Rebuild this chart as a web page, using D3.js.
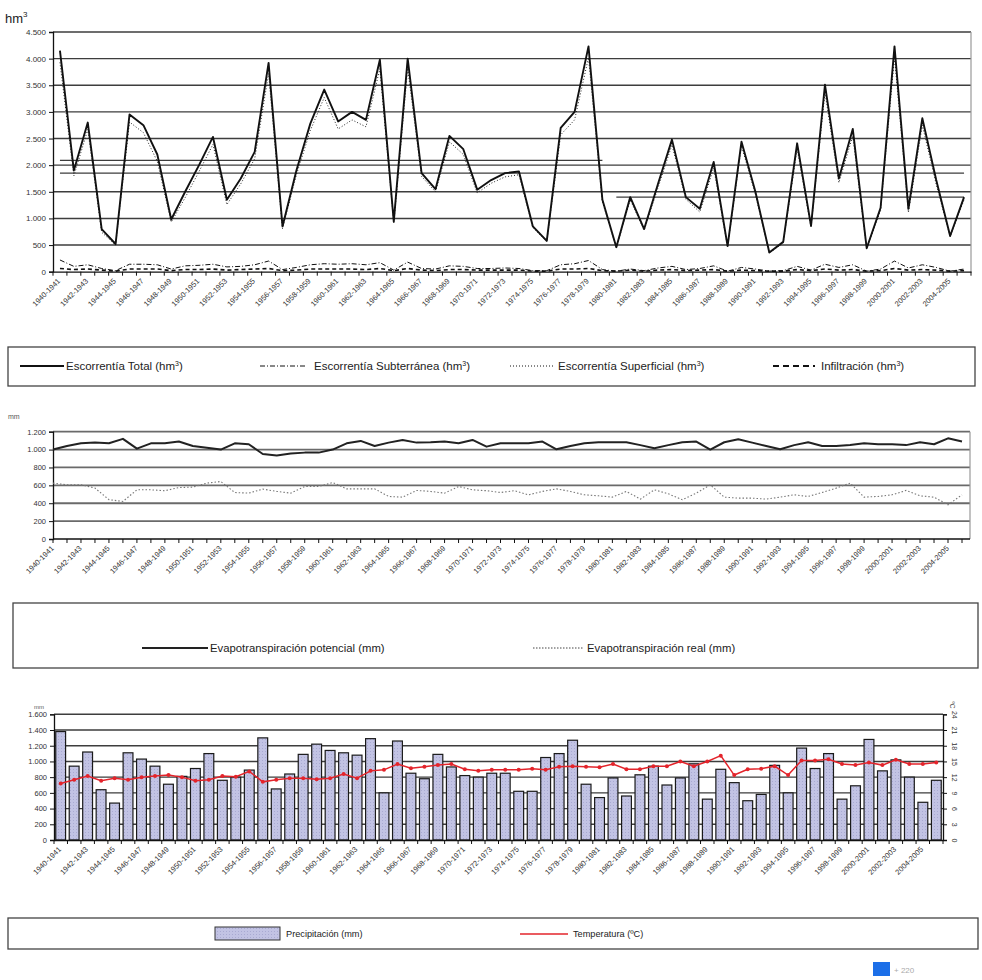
<!DOCTYPE html>
<html><head><meta charset="utf-8">
<script src="https://cdn.jsdelivr.net/npm/d3@7"></script>
<style>
body{margin:0;background:#fff}
svg{display:block;font-family:"Liberation Sans",Arial,sans-serif}
</style>
</head><body>
<svg id="c" width="982" height="980"></svg>
<script>
// Hydrological years
const years = ["1940-1941","1941-1942","1942-1943","1943-1944","1944-1945","1945-1946","1946-1947","1947-1948","1948-1949","1949-1950",
"1950-1951","1951-1952","1952-1953","1953-1954","1954-1955","1955-1956","1956-1957","1957-1958","1958-1959","1959-1960",
"1960-1961","1961-1962","1962-1963","1963-1964","1964-1965","1965-1966","1966-1967","1967-1968","1968-1969","1969-1970",
"1970-1971","1971-1972","1972-1973","1973-1974","1974-1975","1975-1976","1976-1977","1977-1978","1978-1979","1979-1980",
"1980-1981","1981-1982","1982-1983","1983-1984","1984-1985","1985-1986","1986-1987","1987-1988","1988-1989","1989-1990",
"1990-1991","1991-1992","1992-1993","1993-1994","1994-1995","1995-1996","1996-1997","1997-1998","1998-1999","1999-2000",
"2000-2001","2001-2002","2002-2003","2003-2004","2004-2005","2005-2006"];

// Runoff components (hm3)
const escorrentiaTotal = [4150,1900,2800,800,520,2950,2750,2200,980,1500,2000,2530,1350,1750,2250,3920,850,1900,2780,3420,
2820,3000,2850,3980,940,4000,1850,1550,2550,2300,1540,1720,1850,1880,850,580,2700,3000,4230,1350,
460,1400,800,1650,2480,1400,1180,2060,480,2440,1500,360,560,2410,860,3510,1750,2680,440,1200,
4230,1180,2880,1720,670,1400];
const escorrentiaSubterranea = [220,100,130,60,20,140,140,130,50,110,120,140,90,100,130,200,40,80,130,150,
140,150,130,170,30,180,60,50,110,100,60,60,70,60,20,20,130,150,210,40,
10,50,20,70,100,40,60,110,10,80,50,10,20,100,30,140,80,130,10,50,
200,70,130,80,10,50];
const escorrentiaSuperficial = [3930,1800,2670,740,500,2810,2610,2070,930,1390,1880,2390,1260,1650,2120,3720,810,1820,2650,3270,
2680,2850,2720,3810,910,3820,1790,1500,2440,2200,1480,1660,1780,1820,830,560,2570,2850,4020,1310,
450,1350,780,1580,2380,1360,1120,1950,470,2360,1450,350,540,2310,830,3370,1670,2550,430,1150,
4030,1110,2750,1640,660,1350];
const infiltracion = [60,40,50,30,10,50,50,50,20,40,40,50,30,40,50,60,20,30,50,50,
50,50,40,60,20,60,30,20,40,40,30,30,30,30,10,10,50,50,60,20,
10,30,10,30,40,20,30,40,10,30,20,10,10,40,20,50,30,40,10,20,
60,30,40,30,10,20];
// Period means of total runoff (hm3)
const mediaPeriodos = [
  {desde:"1940-1941", hasta:"1979-1980", valor:2090},
  {desde:"1940-1941", hasta:"2005-2006", valor:1850},
  {desde:"1980-1981", hasta:"2005-2006", valor:1400}
];
const runoffTicks = [0,500,1000,1500,2000,2500,3000,3500,4000,4500];

// Evapotranspiration (mm)
const etPotencial = [1000,1040,1070,1080,1070,1120,1010,1070,1070,1090,1040,1020,1000,1070,1060,950,935,955,966,966,
1000,1070,1097,1040,1078,1108,1078,1082,1090,1070,1108,1033,1070,1070,1070,1090,1003,1040,1070,1082,
1082,1082,1050,1015,1050,1082,1090,1000,1082,1115,1078,1040,1003,1050,1082,1040,1040,1050,1070,1060,
1060,1050,1082,1060,1126,1090];
const etReal = [625,606,606,570,440,420,550,550,540,575,580,625,643,520,513,558,532,513,587,587,
632,561,561,561,476,468,543,532,513,587,550,540,520,540,494,532,561,532,494,483,
468,532,446,550,505,439,513,606,468,457,457,446,468,494,476,520,569,625,468,476,
494,543,483,468,383,494];
const etTicks = [0,200,400,600,800,1000,1200];

// Precipitation (mm) and mean temperature (ºC)
const precipitacion = [1380,940,1120,640,470,1110,1030,940,710,810,910,1100,760,800,890,1300,650,840,1090,1220,
1140,1110,1080,1290,600,1260,850,780,1090,930,820,800,850,850,620,620,1050,1100,1270,710,
540,790,560,830,940,700,790,970,520,900,730,500,580,950,600,1170,910,1100,520,690,
1280,880,1020,800,480,760];
const temperatura = [10.8,11.5,12.2,11.3,11.8,11.5,12.0,12.2,12.4,12.0,11.3,11.5,12.2,12.1,13.1,11.1,11.5,11.8,11.8,11.6,
11.8,12.6,11.8,13.2,13.4,14.5,13.7,14.0,14.3,14.5,13.5,13.2,13.4,13.4,13.4,13.6,13.4,14.0,14.1,14.0,
13.9,14.5,13.5,13.5,14.1,14.1,15.0,14.1,15.0,16.1,12.4,13.5,13.6,14.1,12.4,15.2,15.2,15.4,14.5,14.3,
14.8,14.3,15.3,14.5,14.5,14.8];
const precipTicks = [0,200,400,600,800,1000,1200,1400,1600];
const tempTicks = [0,3,6,9,12,15,18,21,24];

const svg = d3.select("#c");
const loc = d3.formatLocale({decimal:",", thousands:".", grouping:[3], currency:["","€"]});
const fmt = loc.format(",.0f");
const labelYears = years.filter((d,i)=>i%2===0);

const defs = svg.append("defs");
const pat = defs.append("pattern").attr("id","dots").attr("width",3).attr("height",3).attr("patternUnits","userSpaceOnUse");
pat.append("rect").attr("width",3).attr("height",3).attr("fill","#c2c3e4");
pat.append("rect").attr("x",1).attr("y",1).attr("width",1).attr("height",1).attr("fill","#a9aad2");

function styleAxis(g, fs){
  g.select(".domain").attr("stroke","#111").attr("stroke-width",1.3);
  g.selectAll(".tick line").attr("stroke","#111");
  g.selectAll("text").attr("fill","#333").attr("font-size",fs)
   .attr("font-family",'"Liberation Sans",Arial,sans-serif');
}
function rotateLabels(g, dx, dy){
  g.selectAll(".tick text").attr("x",0).attr("y",0).attr("dy","0.35em")
   .attr("text-anchor","end").attr("transform",`translate(${dx},${dy}) rotate(-45)`);
}

// ================= Panel 1: runoff =================
const P1 = {l:53, r:971, t:32, b:271.7};
const x1 = d3.scaleBand().domain(years).range([P1.l,P1.r]);
const y1 = d3.scaleLinear().domain([0,4500]).range([P1.b,P1.t]);
const c1 = d => x1(d)+x1.bandwidth()/2;
const g1 = svg.append("g");
g1.selectAll(null).data(runoffTicks.filter(d=>d>0)).join("line")
  .attr("x1",P1.l).attr("x2",P1.r).attr("y1",d=>y1(d)).attr("y2",d=>y1(d))
  .attr("stroke","#3d3d3d").attr("stroke-width",1.4);
g1.append("line").attr("x1",P1.r).attr("x2",P1.r).attr("y1",P1.t).attr("y2",P1.b).attr("stroke","#999").attr("stroke-width",1.2);
// period means
g1.selectAll(null).data(mediaPeriodos).join("line")
  .attr("x1",d=>c1(d.desde)).attr("x2",d=>c1(d.hasta))
  .attr("y1",d=>y1(d.valor)).attr("y2",d=>y1(d.valor))
  .attr("stroke","#3d3d3d").attr("stroke-width",1.4);
const ay1 = g1.append("g").attr("transform",`translate(${P1.l},0)`)
  .call(d3.axisLeft(y1).tickValues(runoffTicks).tickFormat(fmt).tickSize(4).tickPadding(3));
styleAxis(ay1, 8);
const ax1 = g1.append("g").attr("transform",`translate(0,${P1.b})`)
  .call(d3.axisBottom(x1).tickValues(labelYears).tickSize(0));
styleAxis(ax1, 7.5);
rotateLabels(ax1, -1, 8);
g1.selectAll(null).data(years.concat([null])).join("line")
  .attr("x1",d=>d?x1(d):P1.r).attr("x2",d=>d?x1(d):P1.r)
  .attr("y1",P1.b).attr("y2",P1.b+4).attr("stroke","#111");

const line1 = d3.line().x((d,i)=>c1(years[i])).y(d=>y1(d));
g1.append("path").datum(escorrentiaSubterranea).attr("d",line1).attr("fill","none")
  .attr("stroke","#111").attr("stroke-width",1).attr("stroke-dasharray","5,2,1,2");
g1.append("path").datum(infiltracion).attr("d",line1).attr("fill","none")
  .attr("stroke","#111").attr("stroke-width",1.6).attr("stroke-dasharray","4,3");
g1.append("path").datum(escorrentiaSuperficial).attr("d",line1).attr("fill","none")
  .attr("stroke","#222").attr("stroke-width",1).attr("stroke-dasharray","1,2");
g1.append("path").datum(escorrentiaTotal).attr("d",line1).attr("fill","none")
  .attr("stroke","#111").attr("stroke-width",1.9).attr("stroke-linejoin","round");

const unit1 = g1.append("text").attr("x",5).attr("y",23).attr("font-size",13).attr("fill","#222");
unit1.append("tspan").text("hm");
unit1.append("tspan").attr("font-size",8).attr("dy",-6).text("3");

// Legend 1
const L1 = svg.append("g");
L1.append("rect").attr("x",8).attr("y",347).attr("width",967).attr("height",39)
  .attr("fill","#fff").attr("stroke","#444").attr("stroke-width",1.3);
const leg1 = [
  {x:20, w:44, tx:66, t:"Escorrentía Total (hm", dash:null, sw:2},
  {x:260, w:45, tx:314, t:"Escorrentía Subterránea (hm", dash:"5,2,1,2", sw:1},
  {x:510, w:45, tx:558, t:"Escorrentía Superficial (hm", dash:"1,2", sw:1},
  {x:773, w:42, tx:821, t:"Infiltración (hm", dash:"6,4", sw:2.2}
];
leg1.forEach(d=>{
  L1.append("line").attr("x1",d.x).attr("x2",d.x+d.w).attr("y1",366).attr("y2",366)
    .attr("stroke","#111").attr("stroke-width",d.sw).attr("stroke-dasharray",d.dash);
  const t = L1.append("text").attr("x",d.tx).attr("y",370).attr("font-size",11.5).attr("fill","#222");
  t.append("tspan").text(d.t);
  t.append("tspan").attr("font-size",7).attr("dy",-4).text("3");
  t.append("tspan").attr("dy",4).text(")");
});

// ================= Panel 2: evapotranspiration =================
const P2 = {l:53, r:970, pr:962, t:431.7, b:539};
const x2 = d3.scalePoint().domain(years).range([P2.l,P2.pr]);
const y2 = d3.scaleLinear().domain([0,1200]).range([P2.b,P2.t]);
const g2 = svg.append("g");
g2.selectAll(null).data(etTicks.filter(d=>d>0)).join("line")
  .attr("x1",P2.l).attr("x2",P2.r).attr("y1",d=>y2(d)).attr("y2",d=>y2(d))
  .attr("stroke","#6a6a6a").attr("stroke-width",1.8);
g2.append("line").attr("x1",P2.r).attr("x2",P2.r).attr("y1",P2.t).attr("y2",P2.b).attr("stroke","#999").attr("stroke-width",1.2);
const ay2 = g2.append("g").attr("transform",`translate(${P2.l},0)`)
  .call(d3.axisLeft(y2).tickValues(etTicks).tickFormat(fmt).tickSize(4).tickPadding(3));
styleAxis(ay2, 7.5);
const ax2 = g2.append("g").attr("transform",`translate(0,${P2.b})`)
  .call(d3.axisBottom(x2).tickValues(labelYears).tickSize(0));
styleAxis(ax2, 7.5);
ax2.select(".domain").attr("d",`M${P2.l},0H${P2.r}`);
rotateLabels(ax2, -1, 8);
g2.selectAll(null).data(years).join("line")
  .attr("x1",d=>x2(d)).attr("x2",d=>x2(d)).attr("y1",P2.b).attr("y2",P2.b+4).attr("stroke","#111");
const line2 = d3.line().x((d,i)=>x2(years[i])).y(d=>y2(d));
g2.append("path").datum(etReal).attr("d",line2).attr("fill","none")
  .attr("stroke","#777").attr("stroke-width",1.1).attr("stroke-dasharray","1.5,2");
g2.append("path").datum(etPotencial).attr("d",line2).attr("fill","none")
  .attr("stroke","#222").attr("stroke-width",2).attr("stroke-linejoin","round");
g2.append("text").attr("x",8).attr("y",419).attr("font-size",7).attr("fill","#555").text("mm");

// Legend 2
const L2 = svg.append("g");
L2.append("rect").attr("x",13).attr("y",603).attr("width",965).attr("height",65)
  .attr("fill","#fff").attr("stroke","#444").attr("stroke-width",1.3);
L2.append("line").attr("x1",142).attr("x2",208).attr("y1",648).attr("y2",648).attr("stroke","#222").attr("stroke-width",2);
L2.append("text").attr("x",210).attr("y",652).attr("font-size",11.3).attr("fill","#222").text("Evapotranspiración potencial (mm)");
L2.append("line").attr("x1",533).attr("x2",583).attr("y1",648).attr("y2",648).attr("stroke","#444").attr("stroke-width",1).attr("stroke-dasharray","1.5,1.5");
L2.append("text").attr("x",587).attr("y",652).attr("font-size",11.3).attr("fill","#222").text("Evapotranspiración real (mm)");

// ================= Panel 3: precipitation & temperature =================
const P3 = {l:54, r:943, t:714.3, b:840};
const x3 = d3.scaleBand().domain(years).range([P3.l,P3.r]).paddingInner(0.27).paddingOuter(0.13);
const x3b = d3.scaleBand().domain(years).range([P3.l,P3.r]);
const y3 = d3.scaleLinear().domain([0,1600]).range([P3.b,P3.t]);
const y3r = d3.scaleLinear().domain([0,24]).range([P3.b,P3.t]);
const g3 = svg.append("g");
g3.selectAll(null).data(precipTicks.filter(d=>d>0)).join("line")
  .attr("x1",P3.l).attr("x2",P3.r).attr("y1",d=>y3(d)).attr("y2",d=>y3(d))
  .attr("stroke","#3d3d3d").attr("stroke-width",1.4);
g3.selectAll(null).data(precipitacion).join("rect")
  .attr("x",(d,i)=>x3(years[i])).attr("width",x3.bandwidth())
  .attr("y",d=>y3(d)).attr("height",d=>P3.b-y3(d))
  .attr("fill","url(#dots)").attr("stroke","#1a1a1a").attr("stroke-width",1.2);
const ay3 = g3.append("g").attr("transform",`translate(${P3.l},0)`)
  .call(d3.axisLeft(y3).tickValues(precipTicks).tickFormat(fmt).tickSize(4).tickPadding(3));
styleAxis(ay3, 7.5);
const ay3r = g3.append("g").attr("transform",`translate(${P3.r},0)`)
  .call(d3.axisRight(y3r).tickValues(tempTicks).tickSize(4).tickPadding(4));
styleAxis(ay3r, 7);
ay3r.selectAll(".tick text").attr("x",0).attr("dy",0).attr("text-anchor","middle")
  .attr("transform","translate(9,0) rotate(90)");
const ax3 = g3.append("g").attr("transform",`translate(0,${P3.b})`)
  .call(d3.axisBottom(x3b).tickValues(labelYears).tickSize(0));
styleAxis(ax3, 7.5);
rotateLabels(ax3, -1, 8);
g3.selectAll(null).data(years.concat([null])).join("line")
  .attr("x1",d=>d?x3b(d):P3.r).attr("x2",d=>d?x3b(d):P3.r)
  .attr("y1",P3.b).attr("y2",P3.b+4).attr("stroke","#111");
const c3 = d => x3b(d)+x3b.bandwidth()/2;
const line3 = d3.line().x((d,i)=>c3(years[i])).y(d=>y3r(d));
g3.append("path").datum(temperatura).attr("d",line3).attr("fill","none")
  .attr("stroke","#e3242b").attr("stroke-width",1.5);
g3.selectAll(null).data(temperatura).join("circle")
  .attr("cx",(d,i)=>c3(years[i])).attr("cy",d=>y3r(d)).attr("r",2)
  .attr("fill","#e3242b");
g3.append("text").attr("x",34).attr("y",709).attr("font-size",6).attr("fill","#555").text("mm");
g3.append("text").attr("font-size",6.5).attr("fill","#555").attr("text-anchor","middle")
  .attr("transform",`translate(${P3.r+7},705) rotate(90)`).text("ºC");

// Legend 3
const L3 = svg.append("g");
L3.append("rect").attr("x",8).attr("y",918).attr("width",970).attr("height",31)
  .attr("fill","#fff").attr("stroke","#444").attr("stroke-width",1.3);
L3.append("rect").attr("x",215).attr("y",927).attr("width",65).attr("height",13)
  .attr("fill","url(#dots)").attr("stroke","#333").attr("stroke-width",1);
L3.append("text").attr("x",286).attr("y",937).attr("font-size",9.2).attr("fill","#222").text("Precipitación (mm)");
L3.append("line").attr("x1",520).attr("x2",568).attr("y1",934).attr("y2",934).attr("stroke","#e3242b").attr("stroke-width",1.5);
L3.append("text").attr("x",573).attr("y",937).attr("font-size",9.2).attr("fill","#222").text("Temperatura (ºC)");

// page badge
svg.append("rect").attr("x",873).attr("y",962).attr("width",17).attr("height",14).attr("fill","#1c6fe8");
svg.append("text").attr("x",894).attr("y",973).attr("font-size",8).attr("fill","#aaa").text("+ 220");
</script>
</body></html>
